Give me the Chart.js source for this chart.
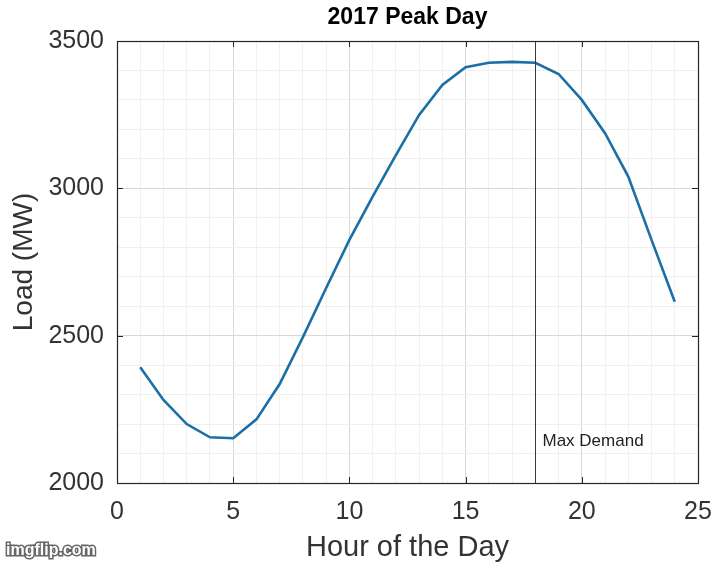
<!DOCTYPE html>
<html>
<head>
<meta charset="utf-8">
<script src="https://cdn.jsdelivr.net/npm/chart.js@4/dist/chart.umd.min.js"></script>
<style>
  html, body { margin: 0; padding: 0; background: #fff; }
  #wrap { width: 715px; height: 570px; }
</style>
</head>
<body>
<div id="wrap"><canvas id="loadChart"></canvas></div>
<script>
// hourly load on the peak day
var hours = [1, 2, 3, 4, 5, 6, 7, 8, 9, 10, 11, 12, 13, 14, 15, 16, 17, 18, 19, 20, 21, 22, 23, 24];
var loadMW = [2393, 2282, 2200, 2155, 2152, 2216, 2336, 2495, 2662, 2825, 2972, 3113,
              3249, 3351, 3411, 3426, 3429, 3426, 3388, 3300, 3187, 3040, 2825, 2615];
var peakHour = 18;
var peakLabel = 'Max Demand';
var chartTitle = '2017 Peak Day';

var FONT = '"Liberation Sans", Arial, Helvetica, sans-serif';

var points = hours.map((h, i) => ({ x: h, y: loadMW[i] }));

// box, inward ticks, peak marker, title, watermark
var matlabLook = {
    id: 'matlabLook',
    afterDraw: function (chart) {
        var c = chart.ctx;
        var a = chart.chartArea;
        var xs = chart.scales.x;
        var ys = chart.scales.y;
        c.save();

        // peak line
        var px = Math.round(xs.getPixelForValue(peakHour)) + 0.5;
        c.strokeStyle = '#3a3a3a';
        c.lineWidth = 1;
        c.beginPath();
        c.moveTo(px, a.top);
        c.lineTo(px, a.bottom);
        c.stroke();
        c.fillStyle = '#222';
        c.font = '17px ' + FONT;
        c.textBaseline = 'middle';
        c.textAlign = 'left';
        c.fillText(peakLabel, px + 7, ys.getPixelForValue(2140));

        // box
        c.strokeStyle = '#262626';
        c.lineWidth = 1.2;
        c.strokeRect(a.left + 0.5, a.top + 0.5, a.right - a.left, a.bottom - a.top);

        // inward major ticks
        c.lineWidth = 1;
        c.beginPath();
        for (var v = 5; v < 25; v += 5) {
            var x = Math.round(xs.getPixelForValue(v)) + 0.5;
            c.moveTo(x, a.bottom); c.lineTo(x, a.bottom - 6);
            c.moveTo(x, a.top); c.lineTo(x, a.top + 6);
        }
        for (var w = 2500; w < 3500; w += 500) {
            var y = Math.round(ys.getPixelForValue(w)) + 0.5;
            c.moveTo(a.left, y); c.lineTo(a.left + 6, y);
            c.moveTo(a.right, y); c.lineTo(a.right - 6, y);
        }
        c.stroke();

        // title
        c.fillStyle = '#000';
        c.font = 'bold 23px ' + FONT;
        c.textAlign = 'center';
        c.textBaseline = 'middle';
        c.fillText(chartTitle, (a.left + a.right) / 2, 18);

        // watermark
        c.font = 'bold 16px ' + FONT;
        c.textAlign = 'left';
        c.lineWidth = 3;
        c.strokeStyle = '#666';
        c.strokeText('imgflip.com', 6, 551);
        c.fillStyle = '#fff';
        c.fillText('imgflip.com', 6, 551);

        c.restore();
    }
};

var ctx = document.getElementById('loadChart').getContext('2d');
var loadChart = new Chart(ctx, {
    type: 'line',
    data: {
        datasets: [{
            label: 'Load',
            data: points,
            borderColor: '#1c6ea6',
            borderWidth: 2.6,
            pointRadius: 0,
            tension: 0,
            fill: false,
        }],
    },
    options: {
        responsive: true,
        maintainAspectRatio: false,
        animation: false,
        layout: { padding: { left: 0, right: 17, top: 41, bottom: 0 } },
        plugins: {
            legend: { display: false },
            tooltip: { enabled: false },
        },
        scales: {
            x: {
                type: 'linear',
                min: 0,
                max: 25,
                afterFit: function (s) {
                    s.height = 87;
                    s.paddingLeft = 0;
                    s.paddingRight = 0;
                },
                ticks: {
                    stepSize: 1,
                    autoSkip: false,
                    maxRotation: 0,
                    padding: 14,
                    color: '#333',
                    font: { family: FONT, size: 25 },
                    callback: function (v) { return v % 5 === 0 ? v : ''; },
                },
                grid: {
                    drawTicks: false,
                    color: function (c) { return c.tick && c.tick.value % 5 === 0 ? '#d9d9d9' : '#f0f0f0'; },
                },
                border: { display: true, color: '#262626' },
                title: {
                    display: true,
                    text: 'Hour of the Day',
                    color: '#333',
                    font: { family: FONT, size: 29 },
                    padding: { top: 0, bottom: 5 },
                },
            },
            y: {
                min: 2000,
                max: 3500,
                afterFit: function (s) { s.width = 117; },
                ticks: {
                    stepSize: 100,
                    autoSkip: false,
                    padding: 13,
                    color: '#333',
                    font: { family: FONT, size: 25 },
                    callback: function (v) { return v % 500 === 0 ? v : ''; },
                },
                grid: {
                    drawTicks: false,
                    color: function (c) { return c.tick && c.tick.value % 500 === 0 ? '#d9d9d9' : '#f0f0f0'; },
                },
                border: { display: true, color: '#262626' },
                title: {
                    display: true,
                    text: 'Load (MW)',
                    color: '#333',
                    font: { family: FONT, size: 28 },
                    padding: { top: 7, bottom: 0 },
                },
            },
        },
    },
    plugins: [matlabLook],
});
</script>
</body>
</html>
